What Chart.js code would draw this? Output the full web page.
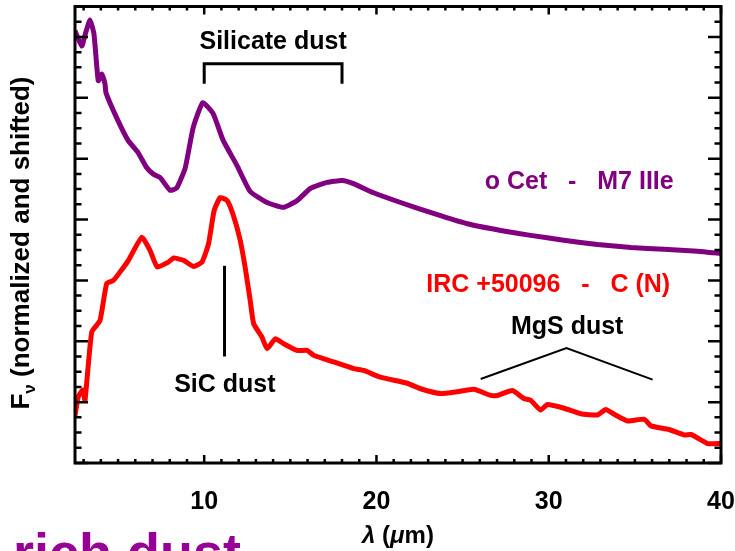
<!DOCTYPE html>
<html><head><meta charset="utf-8">
<script src="https://cdn.jsdelivr.net/npm/chart.js@4.4.1/dist/chart.umd.min.js"></script>
<style>html,body{margin:0;padding:0;background:#fff;overflow:hidden}</style>
</head><body>
<canvas id="c" width="735" height="551"></canvas>
<script>
// ---- data ----
const oCetLambda = [2.5,2.89,3.1,3.37,3.6,3.85,4.05,4.24,4.30,4.92,5.58,6.16,6.67,7.03,7.44,8.02,8.41,8.90,9.36,9.92,10.52,11.10,11.90,12.67,13.65,14.59,15.39,16.16,17.13,18.01,18.66,19.83,21.40,23.31,25.27,27.21,28.95,30.87,32.83,34.77,36.69,38.65,40.0];
const oCetFlux   = [7.10,6.85,7.05,7.28,7.05,6.28,6.39,6.23,6.08,5.67,5.30,5.10,4.85,4.75,4.69,4.48,4.52,4.85,5.51,5.92,5.74,5.30,4.89,4.46,4.28,4.20,4.31,4.51,4.61,4.64,4.59,4.44,4.28,4.10,3.93,3.82,3.74,3.66,3.59,3.54,3.51,3.48,3.44];
const ircLambda  = [2.5,2.69,2.95,3.08,3.47,3.95,4.34,4.73,5.12,5.60,6.38,6.86,7.28,7.92,8.22,8.80,9.38,9.87,10.25,10.58,10.93,11.34,11.69,12.09,12.38,12.67,12.87,13.35,13.65,14.13,14.61,15.39,15.97,16.35,17.52,18.68,19.26,20.23,21.78,22.56,23.72,24.69,25.66,26.63,27.02,27.89,28.56,28.95,29.53,29.92,30.89,31.86,32.83,33.31,33.80,34.58,35.54,35.93,36.98,37.87,38.26,39.23,40.0];
const ircFlux    = [0.78,1.09,1.20,1.03,2.15,2.34,2.95,3.00,3.14,3.33,3.71,3.49,3.22,3.30,3.37,3.33,3.23,3.30,3.60,4.15,4.36,4.31,4.07,3.66,3.21,2.67,2.29,2.07,1.88,2.04,1.96,1.85,1.85,1.77,1.66,1.55,1.52,1.41,1.31,1.22,1.14,1.17,1.21,1.11,1.11,1.19,1.06,1.03,0.87,0.96,0.90,0.81,0.79,0.88,0.80,0.69,0.72,0.61,0.55,0.46,0.47,0.32,0.32];
const xTickLabels = [10, 20, 30, 40];
const xMinorTicks = [3,4,5,6,7,8,9,10,11,12,13,14,15,16,17,18,19,20,21,22,23,24,25,26,27,28,29,30,31,32,33,34,35,36,37,38,39];
const yTicks = [0,0.25,0.5,0.75,1,1.25,1.5,1.75,2,2.25,2.5,2.75,3,3.25,3.5,3.75,4,4.25,4.5,4.75,5,5.25,5.5,5.75,6,6.25,6.5,6.75,7,7.25];
const seriesNames = ['o Cet   -   M7 IIIe', 'IRC +50096   -   C (N)'];

const PURPLE = 'rgb(128,0,128)';
const RED = 'rgb(255,0,0)';
const FONT = '"Liberation Sans", Arial, Helvetica, sans-serif';

function pts(xs, ys){ return xs.map((x,i)=>({x:x, y:ys[i]})); }

const decor = {
  id: 'decor',
  afterDatasetsDraw(chart){
    const ctx = chart.ctx, xs = chart.scales.x, ys = chart.scales.y, a = chart.chartArea;
    const X = v => xs.getPixelForValue(v), Y = v => ys.getPixelForValue(v);
    ctx.save();
    ctx.strokeStyle = '#000';
    // ticks
    ctx.lineWidth = 2.5;
    ctx.beginPath();
    xMinorTicks.concat(xTickLabels).forEach(v=>{
      const px = X(v), len = (v % 10 === 0) ? 8 : 4;
      ctx.moveTo(px, a.bottom); ctx.lineTo(px, a.bottom - len);
      ctx.moveTo(px, a.top); ctx.lineTo(px, a.top + len);
    });
    yTicks.forEach(v=>{
      const py = Y(v), len = Number.isInteger(v) ? 13 : 6.5;
      ctx.moveTo(a.left, py); ctx.lineTo(a.left + len, py);
      ctx.moveTo(a.right, py); ctx.lineTo(a.right - len, py);
    });
    ctx.stroke();
    // frame
    ctx.lineWidth = 3;
    ctx.strokeRect(a.left, a.top, a.right - a.left, a.bottom - a.top);

    // annotations
    ctx.lineCap = 'butt';
    ctx.lineWidth = 3;
    ctx.beginPath();
    ctx.moveTo(X(10), Y(6.23)); ctx.lineTo(X(10), Y(6.56)); ctx.lineTo(X(18), Y(6.56)); ctx.lineTo(X(18), Y(6.23));
    ctx.stroke();
    ctx.beginPath();
    ctx.moveTo(X(11.18), Y(3.24)); ctx.lineTo(X(11.18), Y(1.75));
    ctx.stroke();
    ctx.lineWidth = 2;
    ctx.beginPath();
    ctx.moveTo(X(26.05), Y(1.38)); ctx.lineTo(X(31.03), Y(1.89)); ctx.lineTo(X(36.03), Y(1.37));
    ctx.stroke();

    ctx.textAlign = 'center'; ctx.textBaseline = 'middle';
    ctx.font = 'bold 25px ' + FONT;
    ctx.fillStyle = '#000';
    ctx.fillText('Silicate dust', X(14.0), Y(6.91));
    ctx.fillText('SiC dust', X(11.2), Y(1.28));
    ctx.fillText('MgS dust', X(31.07), Y(2.23));
    ctx.fillStyle = PURPLE;
    ctx.fillText(seriesNames[0], X(31.77), Y(4.61));
    ctx.fillStyle = RED;
    ctx.fillText(seriesNames[1], X(29.97), Y(2.92));

    // x title: λ (μm)
    ctx.fillStyle = '#000';
    ctx.textAlign = 'left';
    const parts = [['λ','italic bold 24px '],[' (','bold 24px '],['μ','italic bold 24px '],['m)','bold 24px ']];
    let w = 0; parts.forEach(p=>{ ctx.font = p[1]+FONT; w += ctx.measureText(p[0]).width; });
    let x0 = (a.left + a.right)/2 - w/2;
    parts.forEach(p=>{ ctx.font = p[1]+FONT; ctx.fillText(p[0], x0, 536); x0 += ctx.measureText(p[0]).width; });

    // y title: F_nu (normalized and shifted)
    ctx.save();
    ctx.translate(22, 243);
    ctx.rotate(-Math.PI/2);
    ctx.font = 'bold 26px ' + FONT; const wF = ctx.measureText('F').width;
    ctx.font = 'bold 17px ' + FONT; const wN = ctx.measureText('ν').width;
    ctx.font = 'bold 26px ' + FONT; const wR = ctx.measureText(' (normalized and shifted)').width;
    let t = -(wF + wN + wR)/2;
    ctx.font = 'bold 26px ' + FONT; ctx.fillText('F', t, 0); t += wF;
    ctx.font = 'bold 17px ' + FONT; ctx.fillText('ν', t, 8); t += wN;
    ctx.font = 'bold 26px ' + FONT; ctx.fillText(' (normalized and shifted)', t, 0);
    ctx.restore();

    // cut-off caption at the bottom
    ctx.fillStyle = 'rgb(150,0,150)';
    ctx.font = 'bold 54px ' + FONT;
    ctx.textBaseline = 'alphabetic';
    ctx.fillText('rich dust', 13, 571);
    ctx.restore();
  }
};

new Chart(document.getElementById('c'), {
  type: 'line',
  data: {
    datasets: [
      {label: seriesNames[0], data: pts(oCetLambda, oCetFlux), borderColor: PURPLE, borderWidth: 5, pointRadius: 0, tension: 0.15, fill: false},
      {label: seriesNames[1], data: pts(ircLambda, ircFlux), borderColor: RED, borderWidth: 5, pointRadius: 0, tension: 0.15, fill: false}
    ]
  },
  options: {
    responsive: false, animation: false, devicePixelRatio: 1,
    layout: {padding: {left: 75, right: 14, top: 6.5, bottom: 0}},
    plugins: {legend: {display: false}, tooltip: {enabled: false}},
    scales: {
      x: {type: 'linear', min: 2.5, max: 40,
          grid: {display: false}, border: {display: false},
          ticks: {stepSize: 1, autoSkip: false, maxRotation: 0, minRotation: 0, padding: 16, color: '#000',
                  font: {family: FONT, size: 25, weight: 'bold'},
                  callback: v => xTickLabels.includes(v) ? String(v) : ''},
          afterFit: s => { s.height = 88; s.paddingLeft = 0; s.paddingRight = 0; }
      },
      y: {type: 'linear', min: 0, max: 7.5, display: false}
    }
  },
  plugins: [decor]
});
</script>
</body></html>
